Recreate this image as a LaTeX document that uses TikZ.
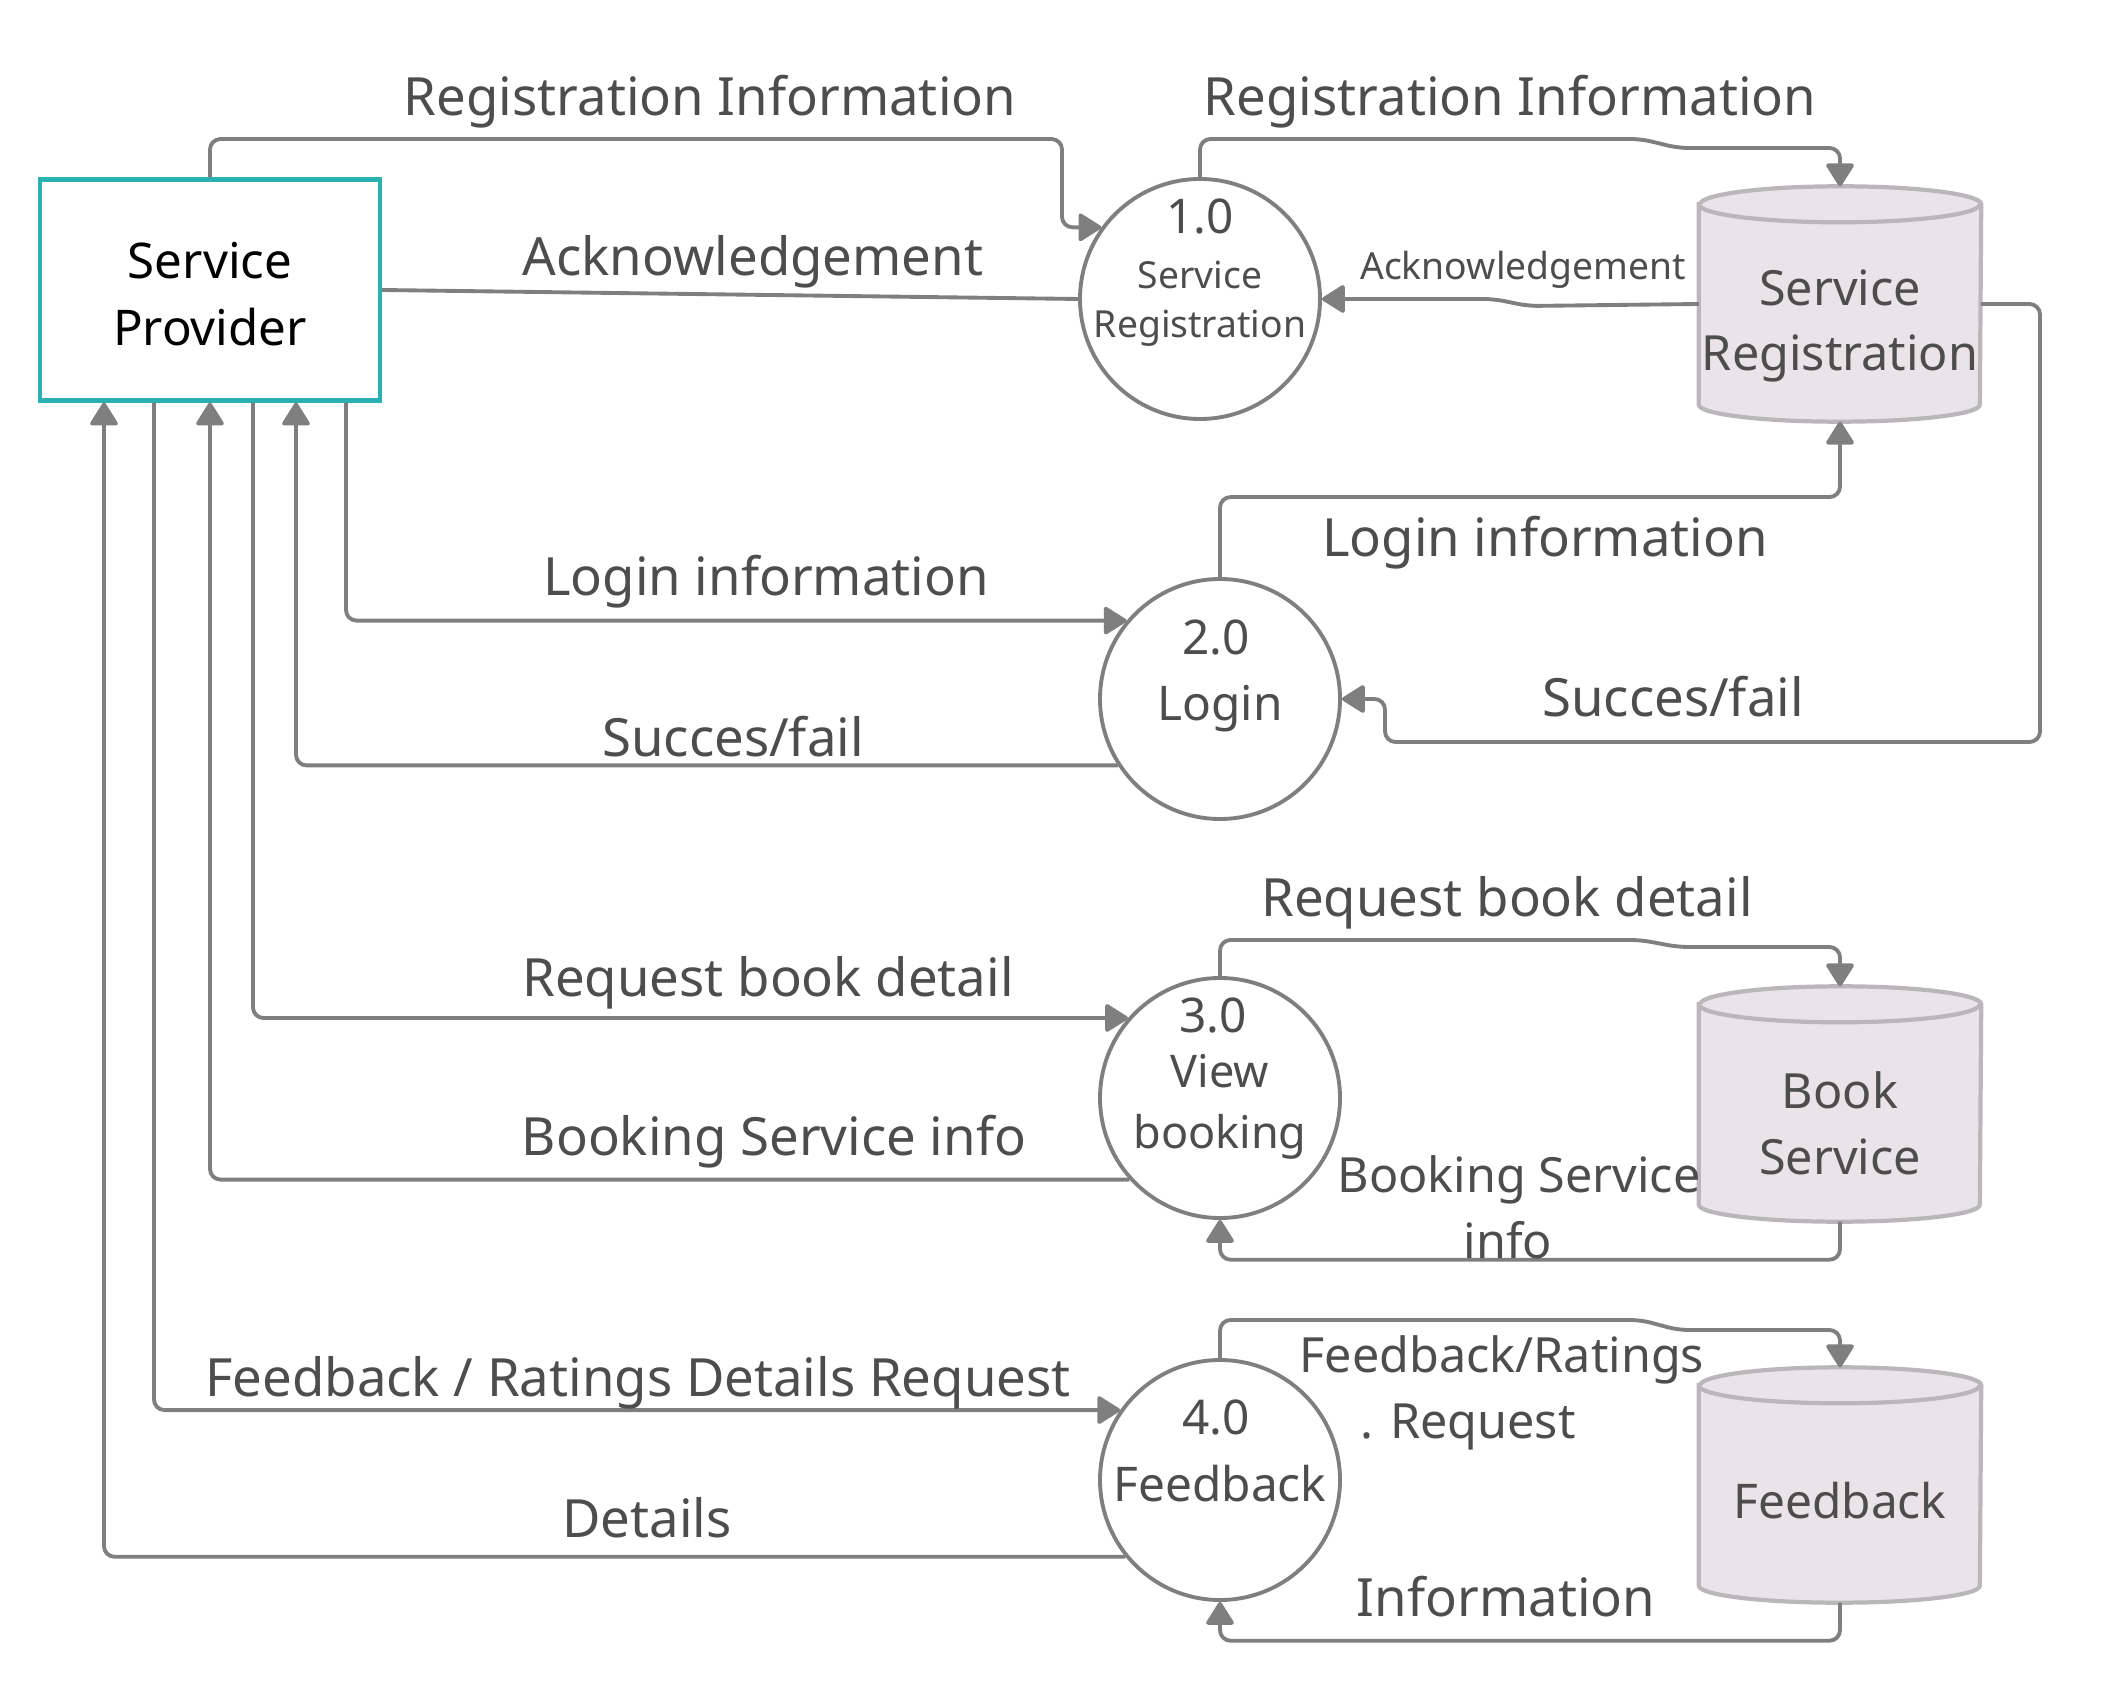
\documentclass[tikz,border=0pt]{standalone}
\usepackage{fontspec}
\setmainfont{Noto Sans}
\usetikzlibrary{arrows.meta}

\definecolor{flowgray}{HTML}{7F7F7F}
\definecolor{txtgray}{HTML}{4D4D4D}
\definecolor{spteal}{HTML}{2AB1B1}
\definecolor{drumfill}{HTML}{E8E4E8}
\definecolor{drumedge}{HTML}{BAB7BA}

% data store drawn round a named node
\newcommand{\drum}[1]{%
  \filldraw[drumline] ([yshift=-1.8mm]#1.north west) -- ([yshift=1.7mm]#1.south west)
    arc[start angle=180,end angle=360,x radius=14.05mm,y radius=1.7mm]
    -- ([yshift=-1.8mm]#1.north east)
    arc[start angle=0,end angle=180,x radius=14.05mm,y radius=1.8mm] -- cycle;
  \draw[drumline] ([yshift=-1.8mm]#1.north west)
    arc[start angle=180,end angle=360,x radius=14.05mm,y radius=1.8mm];}

\begin{document}
\begin{tikzpicture}[x=0.1mm,y=-0.1mm,
    flow/.style={draw=flowgray,line width=1.1pt,rounded corners=3pt,-{Triangle[length=7pt,width=8.5pt,round]}},
    plain/.style={draw=flowgray,line width=1.1pt},
    extbox/.style={rectangle,draw=spteal,line width=1.2pt,minimum width=34mm,minimum height=22.1mm},
    proc/.style={circle,draw=flowgray,line width=1.1pt,fill=white,minimum size=24mm,inner sep=0pt},
    store/.style={rectangle,minimum width=28.1mm,minimum height=23.4mm,inner sep=0pt},
    drumline/.style={draw=drumedge,fill=drumfill,line width=1.2pt},
    lbl/.style={text=txtgray,font=\fontsize{15}{18.7}\selectfont,align=center,inner sep=0pt},
    mlbl/.style={lbl,font=\fontsize{13.8}{18.7}\selectfont},
    ptxt/.style={text=txtgray,font=\fontsize{13.6}{17.3}\selectfont,align=center,inner sep=0pt},
    stxt/.style={text=txtgray,font=\fontsize{10.6}{13.9}\selectfont,align=center,inner sep=0pt}
  ]
  \useasboundingbox (0,0) rectangle (2121,1700);

  % entity
  \node[extbox] (sp) at (210,290) {};
  \node[align=center,inner sep=0pt,font=\fontsize{14}{19}\selectfont] (spt) at (210,294) {Service\\Provider};

  % processes
  \node[proc] (p1) at (1200,299) {};
  \node[proc] (p2) at (1220,699) {};
  \node[proc] (p3) at (1220,1098) {};
  \node[proc] (p4) at (1220,1480) {};
  \node[ptxt] (p1n) at (1200,217) {1.0};
  \node[stxt] (p1t) at (1200,304) {Service\\Registration};
  \node[ptxt] (p2n) at (1216,638) {2.0};
  \node[ptxt] (p2t) at (1220,709) {Login};
  \node[ptxt] (p3n) at (1213,1016) {3.0};
  \node[ptxt,font=\fontsize{12.8}{17.3}\selectfont] (p3t) at (1220,1107) {View\\booking};
  \node[ptxt] (p4n) at (1216,1417) {4.0};
  \node[ptxt] (p4t) at (1220,1484) {Feedback};

  % data stores
  \node[store] (d1) at (1840,304) {};
  \node[store] (d2) at (1840,1104) {};
  \node[store] (d3) at (1840,1485) {};
  \drum{d1}
  \drum{d2}
  \drum{d3}
  \node[ptxt,font=\fontsize{13.8}{18.7}\selectfont] (d1t) at (1840,326) {Service\\Registration};
  \node[ptxt,font=\fontsize{13.8}{18.7}\selectfont] (d2t) at (1840,1123) {Book\\Service};
  \node[ptxt] (d3t) at (1840,1501) {Feedback};

  % flows
  \draw[flow] (sp.north) |- (1062,139) |- (p1.144);
  \draw[plain] (p1.west) -- (sp.east);
  \draw[flow] (p1.north) |- (1641,139) -- (1678,148) -| (d1.north);
  \draw[flow] (d1.west) -- (1528,306) -- (1494,299) -- (p1.east);
  \draw[flow] (d1.east) -- (2040,304) |- (1385,742) |- (p2.east);
  \draw[flow] (p2.north) -- ++(0,-80) -| (d1.south);
  \draw[flow] (sp.south -| 346,0) |- (p2.140);
  \draw[flow] (p2.213) -| (sp.south -| 296,0);
  \draw[flow] (sp.south -| 253,0) |- (p3.139);
  \draw[flow] (p3.222) -| (sp.south);
  \draw[flow] (p3.north) |- (1641,940) -- (1678,947) -| (d2.north);
  \draw[flow] (d2.south) -- ++(0,38) -| (p3.south);
  \draw[flow] (sp.south -| 154,0) |- (p4.145);
  \draw[flow] (p4.219) -| (sp.south -| 104,0);
  \draw[flow] (p4.north) |- (1641,1320) -- (1678,1330) -| (d3.north);
  \draw[flow] (d3.south) -- ++(0,38) -| (p4.south);

  % labels
  \node[lbl] (lrega) at (710,102) {Registration Information};
  \node[lbl] (lregb) at (1510,102) {Registration Information};
  \node[lbl] (lacka) at (753,262) {Acknowledgement};
  \node[stxt] (lackb) at (1523,270) {Acknowledgement};
  \node[lbl] (lloga) at (766,582) {Login information};
  \node[lbl] (llogb) at (1545,543) {Login information};
  \node[lbl] (lsuca) at (733,737) {Succes/fail};
  \node[lbl] (lsucb) at (1673,697) {Succes/fail};
  \node[lbl] (lreqa) at (768,983) {Request book detail};
  \node[lbl] (lreqb) at (1507,903) {Request book detail};
  \node[lbl] (lbkga) at (774,1142) {Booking Service info};
  \node[mlbl] (lbkgb) at (1519,1207) {Booking Service\\info\hspace*{2.2mm}};
  \node[lbl] (lfbka) at (638,1383) {Feedback / Ratings Details Request};
  \node[mlbl] (lfbkb) at (1502,1393) {Feedback/Ratings\\. Request\hspace*{6.8mm}};
  \node[lbl] (ldet) at (647,1518) {Details};
  \node[lbl] (linf) at (1506,1597) {Information};
\end{tikzpicture}
\end{document}
